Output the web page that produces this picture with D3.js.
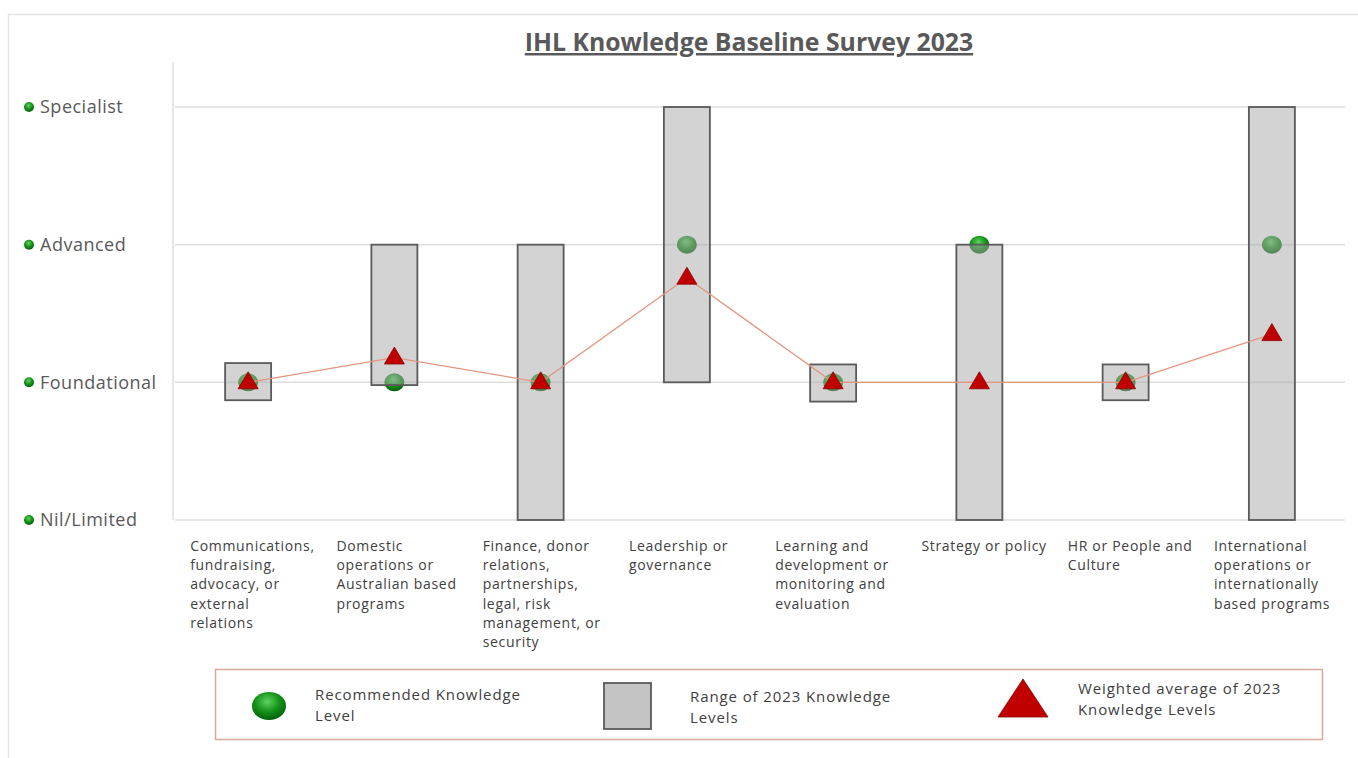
<!DOCTYPE html>
<html><head><meta charset="utf-8">
<script src="https://cdn.jsdelivr.net/npm/d3@7"></script>
<style>body{margin:0;background:#fff}svg{display:block}</style>
</head><body>
<script>
const categories = [
  ["Communications,","fundraising,","advocacy, or","external","relations"],
  ["Domestic","operations or","Australian based","programs"],
  ["Finance, donor","relations,","partnerships,","legal, risk","management, or","security"],
  ["Leadership or","governance"],
  ["Learning and","development or","monitoring and","evaluation"],
  ["Strategy or policy"],
  ["HR or People and","Culture"],
  ["International","operations or","internationally","based programs"]
];
const levelLabels = ["Nil/Limited","Foundational","Advanced","Specialist"];
const rangeLow  = [0.87, 0.98, 0, 1, 0.86, 0, 0.87, 0];
const rangeHigh = [1.14, 2, 2, 3, 1.13, 2, 1.13, 3];
const recommended = [1, 1, 1, 2, 1, 2, 1, 2];
const weightedAvg = [1, 1.18, 1, 1.76, 1, 1, 1, 1.35];
const title = "IHL Knowledge Baseline Survey 2023";
const legendLabels = [["Recommended Knowledge","Level"],["Range of 2023 Knowledge","Levels"],["Weighted average of 2023","Knowledge Levels"]];

const W = 1358, H = 758;
const svg = d3.select("body").append("svg").attr("width", W).attr("height", H);
const defs = svg.append("defs");
const g1 = defs.append("radialGradient").attr("id","gball").attr("cx","45%").attr("cy","35%").attr("r","65%");
g1.append("stop").attr("offset","0%").attr("stop-color","#5fd35f");
g1.append("stop").attr("offset","55%").attr("stop-color","#15921a");
g1.append("stop").attr("offset","100%").attr("stop-color","#05600a");

const textColor = "#595959";
const font = "'Open Sans', sans-serif";

// outer frame
svg.append("rect").attr("x",8.5).attr("y",14.5).attr("width",1400).attr("height",800)
  .attr("fill","none").attr("stroke","#e3e3e3").attr("stroke-width",1.5);

const idx = d3.range(categories.length);
const x = d3.scaleBand().domain(idx).range([175, 1345]);
const y = d3.scaleLinear().domain([0, 3]).range([520, 107]);
const cx = i => x(i) + x.bandwidth()/2;

// title
svg.append("text").attr("x", 749).attr("y", 51).attr("text-anchor","middle")
  .attr("font-family", font).attr("font-weight","bold").attr("font-size", 24.8)
  .attr("fill", textColor).attr("text-decoration","underline").text(title);

// gridlines
svg.append("g").selectAll("line").data(d3.range(levelLabels.length)).join("line")
  .attr("x1", 175).attr("x2", 1345).attr("y1", d => y(d)).attr("y2", d => y(d))
  .attr("stroke", "#dedede").attr("stroke-width", 1.5);
// left axis line
svg.append("line").attr("x1",173).attr("x2",173).attr("y1",62).attr("y2",520)
  .attr("stroke","#dedede").attr("stroke-width",1.5);

// y labels
const yl = svg.append("g").selectAll("g").data(levelLabels).join("g")
  .attr("transform", (d,i) => `translate(0,${y(i)})`);
yl.append("circle").attr("cx", 29).attr("cy", 0).attr("r", 5).attr("fill","url(#gball)");
yl.append("text").attr("x", 40).attr("y", 0).attr("dy","0.35em")
  .attr("font-family", font).attr("font-size", 18).attr("letter-spacing", 0.5)
  .attr("fill", textColor).text(d => d);

// recommended circles (drawn under the boxes)
svg.append("g").selectAll("ellipse").data(recommended).join("ellipse")
  .attr("cx", (d,i) => cx(i)).attr("cy", d => y(d)).attr("rx", 10).attr("ry", 9)
  .attr("fill", "url(#gball)");

// range boxes
const bw = 46;
svg.append("g").selectAll("rect").data(idx).join("rect")
  .attr("x", i => cx(i) - bw/2).attr("width", bw)
  .attr("y", i => y(rangeHigh[i])).attr("height", i => y(rangeLow[i]) - y(rangeHigh[i]))
  .attr("fill", "#a8a8a8").attr("fill-opacity", 0.5)
  .attr("stroke", "#5a5a5a").attr("stroke-width", 1.8);

// average line
svg.append("path").datum(weightedAvg)
  .attr("d", d3.line().x((d,i) => cx(i)).y(d => y(d)))
  .attr("fill","none").attr("stroke","#e3957f").attr("stroke-width",1.3);

// triangles
const tri = (px, py, w, h) => `M${px},${py - h*0.62}L${px + w/2},${py + h*0.38}L${px - w/2},${py + h*0.38}Z`;
svg.append("g").selectAll("path").data(weightedAvg).join("path")
  .attr("d", (d,i) => tri(cx(i), y(d), 20, 17))
  .attr("fill", "#c00000").attr("stroke", "#8b0000").attr("stroke-width", 0.8);

// category labels
const cl = svg.append("g").selectAll("text").data(categories).join("text")
  .attr("font-family", font).attr("font-size", 14).attr("letter-spacing", 0.7).attr("fill", "#404040");
cl.each(function(lines, i) {
  const t = d3.select(this);
  lines.forEach((ln, k) => {
    t.append("tspan").attr("x", cx(i) - 58).attr("y", 551 + k*19.2).text(ln);
  });
});

// legend
const lg = svg.append("g");
lg.append("rect").attr("x",215.5).attr("y",669.5).attr("width",1107).attr("height",70)
  .attr("fill","#fff").attr("stroke","#d8a79d").attr("stroke-width",1.5);
lg.append("ellipse").attr("cx",269).attr("cy",706).attr("rx",17).attr("ry",14).attr("fill","url(#gball)");
lg.append("rect").attr("x",604).attr("y",683).attr("width",47).attr("height",46)
  .attr("fill","#c4c4c4").attr("stroke","#5a5a5a").attr("stroke-width",1.8);
lg.append("path").attr("d","M1023,679L1048,717L998,717Z").attr("fill","#c00000").attr("stroke","#8b0000").attr("stroke-width",0.8);
const legPos = [[315,700],[690,702],[1078,694]];
legendLabels.forEach((lines, j) => {
  const t = lg.append("text").attr("font-family", font).attr("font-size", 15).attr("letter-spacing", 0.9).attr("fill", "#404040");
  lines.forEach((ln, k) => t.append("tspan").attr("x", legPos[j][0]).attr("y", legPos[j][1] + k*21).text(ln));
});
</script>
</body></html>
